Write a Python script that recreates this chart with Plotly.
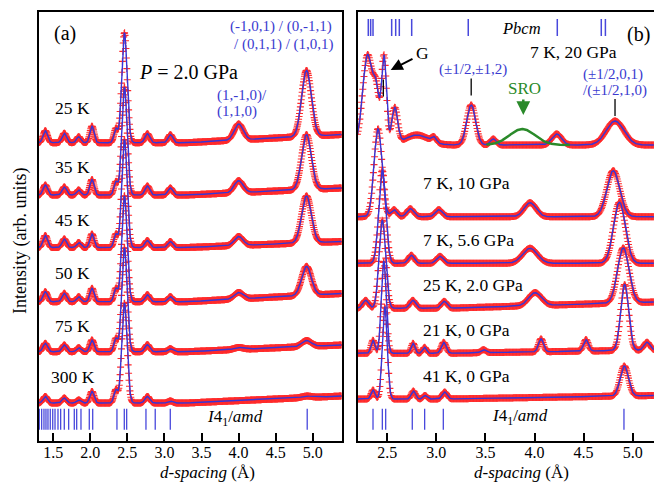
import numpy as np
import plotly.graph_objects as go

W, H = 654, 483

# ---------------- Panel (a): P = 2.0 GPa, temperature series ----------------
a_labels = ["25 K", "35 K", "45 K", "50 K", "75 K", "300 K"]
a_peak_d = [1.394, 1.650, 1.844, 2.023, 2.345, 2.461, 2.770, 3.080, 4.000, 4.915]
a_peak_sigma = [0.030, 0.030, 0.028, 0.028, 0.026, 0.036, 0.032, 0.032, 0.060, 0.065]
a_amp_25K = [12, 9.5, 6, 16.5, 14, 110, 9, 8, 16, 66]
a_amp_35K = [10, 8, 5, 15.5, 13, 108, 9, 7, 12, 55]
a_amp_45K = [12, 8.5, 5, 13.5, 13, 108, 7, 6, 9, 47]
a_amp_50K = [10, 8.4, 5, 13.4, 13, 106, 7, 5, 6.5, 29]
a_amp_75K = [8.4, 6.7, 4, 11.7, 13, 104, 7, 3, 2, 6]
a_amp_300K = [6.6, 5, 3, 11.6, 13, 100, 6.5, 2, 0, 1.5]
a_bg_left = [297.8, 245.5, 193.0, 138.8, 88.8, 37.5]
a_bg_right = [306.0, 252.5, 199.0, 147.0, 95.5, 44.5]
a_refl_I41amd = [1.313, 1.345, 1.376, 1.403, 1.430, 1.461, 1.494, 1.525, 1.565, 1.601,
                 1.650, 1.709, 1.785, 1.817, 1.875, 1.987, 2.033, 2.360, 2.459, 2.491,
                 2.751, 2.876, 3.079, 4.925]

# ---------------- Panel (b): pressure series ----------------
b_labels = ["7 K, 20 GPa", "7 K, 10 GPa", "7 K, 5.6 GPa", "25 K, 2.0 GPa", "21 K, 0 GPa", "41 K, 0 GPa"]
b_d_20GPa = [2.300, 2.390, 2.467, 2.576, 2.800, 2.976, 3.355, 3.580, 4.226, 4.820]
b_amp_20GPa = [90, 45, 88, 36, 10, 5, 40, 6, 11, 24]
b_sig_20GPa = [0.050, 0.030, 0.025, 0.030, 0.120, 0.025, 0.045, 0.030, 0.050, 0.090]
b_d_10GPa = [2.406, 2.570, 2.735, 3.025, 3.954, 4.802]
b_amp_10GPa = [88, 7, 8, 7, 14, 46]
b_sig_10GPa = [0.040, 0.030, 0.035, 0.035, 0.060, 0.065]
b_d_5GPa = [2.449, 2.745, 3.037, 3.954, 4.865]
b_amp_5GPa = [93, 8, 7, 15, 61]
b_sig_5GPa = [0.035, 0.030, 0.035, 0.075, 0.060]
b_d_2GPa = [2.280, 2.450, 2.760, 3.080, 4.005, 4.904]
b_amp_2GPa = [8, 88, 8, 7, 13, 55]
b_sig_2GPa = [0.030, 0.033, 0.030, 0.030, 0.065, 0.058]
b_d_21K = [2.355, 2.465, 2.763, 2.880, 3.075, 3.480, 4.066, 4.524, 4.918, 5.145]
b_amp_21K = [13, 92, 10, 6, 11, 3, 13, 11.5, 66, 8]
b_sig_21K = [0.020, 0.025, 0.020, 0.020, 0.025, 0.025, 0.025, 0.025, 0.040, 0.030]
b_d_41K = [2.355, 2.475, 2.766, 2.884, 3.085, 4.914]
b_amp_41K = [9, 92, 8, 3.5, 7, 30]
b_sig_41K = [0.020, 0.025, 0.022, 0.020, 0.025, 0.042]
b_bg_left = [295.5, 223.8, 177.2, 132.2, 87.2, 41.5]
b_bg_right = [295.5, 223.8, 177.2, 138.5, 90.5, 45.0]
b_refl_Pbcm = [2.307, 2.331, 2.355, 2.545, 2.586, 2.623, 2.749, 3.325, 4.232, 4.680, 4.722]
b_refl_I41amd = [2.355, 2.450, 2.484, 2.755, 2.881, 3.071, 4.911]
b_peak_marks_d = [2.460, 3.355, 4.820]
b_peak_marks_y = [352.5, 353.5, 333.0]
sro_center, sro_amp, sro_sigma, sro_lo, sro_hi = 3.875, 16, 0.13, 3.51, 4.36

# ---------------- helpers ----------------
A_RANGE = [1.305, 5.39]
B_RANGE = [2.197, 5.217]
Y_RANGE = [0, 428.2]
BLUE = "#3535d8"
RED = "#ff2a2a"
TXT_BLUE = "#3a3ad0"
FONT = "Liberation Serif, Times New Roman, serif"


def profile(d, centers, amps, sigmas, bg_l, bg_r, knee, d_end):
    y = bg_l + (bg_r - bg_l) * np.clip((d - knee) / (d_end - knee), 0, 1)
    for c, a, s in zip(centers, amps, sigmas):
        y = y + a * np.exp(-0.5 * ((d - np.asarray(c)) / s) ** 2)
    return y


def px(x):
    return x / W


def py(y):
    return 1 - y / H


fig = go.Figure()

a_amps = [a_amp_25K, a_amp_35K, a_amp_45K, a_amp_50K, a_amp_75K, a_amp_300K]
b_sets = [(b_d_20GPa, b_amp_20GPa, b_sig_20GPa), (b_d_10GPa, b_amp_10GPa, b_sig_10GPa),
          (b_d_5GPa, b_amp_5GPa, b_sig_5GPa), (b_d_2GPa, b_amp_2GPa, b_sig_2GPa),
          (b_d_21K, b_amp_21K, b_sig_21K), (b_d_41K, b_amp_41K, b_sig_41K)]

da_line = np.arange(A_RANGE[0], A_RANGE[1], 0.003)
da_obs = np.arange(A_RANGE[0], A_RANGE[1], 0.006)
db_line = np.arange(B_RANGE[0], B_RANGE[1], 0.003)
db_obs = np.arange(B_RANGE[0], B_RANGE[1], 0.006)

a_curves = []
for amps, bl, br in zip(a_amps, a_bg_left, a_bg_right):
    a_curves.append((profile(da_obs, a_peak_d, amps, a_peak_sigma, bl, br, 3.3, 5.39),
                     profile(da_line, a_peak_d, amps, a_peak_sigma, bl, br, 3.3, 5.39)))
b_curves = []
for (dd, aa, ss), bl, br in zip(b_sets, b_bg_left, b_bg_right):
    b_curves.append((profile(db_obs, dd, aa, ss, bl, br, 3.1, 5.22),
                     profile(db_line, dd, aa, ss, bl, br, 3.1, 5.22)))

obs_marker = dict(symbol="cross-thin", size=5, line=dict(width=1.1, color=RED))
for yo, _ in a_curves:
    fig.add_trace(go.Scatter(x=da_obs, y=yo, mode="markers", marker=obs_marker,
                             xaxis="x", yaxis="y", showlegend=False))
for yo, _ in b_curves:
    fig.add_trace(go.Scatter(x=db_obs, y=yo, mode="markers", marker=obs_marker,
                             xaxis="x2", yaxis="y2", showlegend=False))
for _, yl in a_curves:
    fig.add_trace(go.Scatter(x=da_line, y=yl, mode="lines", line=dict(color=BLUE, width=1.4),
                             xaxis="x", yaxis="y", showlegend=False))
for _, yl in b_curves:
    fig.add_trace(go.Scatter(x=db_line, y=yl, mode="lines", line=dict(color=BLUE, width=1.4),
                             xaxis="x2", yaxis="y2", showlegend=False))

# SRO component (green)
d_sro = np.arange(sro_lo, sro_hi, 0.005)
y_sro = profile(d_sro, [sro_center], [sro_amp], [sro_sigma], b_bg_left[0], b_bg_left[0], 3.1, 5.22)
fig.add_trace(go.Scatter(x=d_sro, y=y_sro, mode="lines", line=dict(color="#2a8a2a", width=2.5),
                         xaxis="x2", yaxis="y2", showlegend=False))

# reflection tick marks
tick_mk = dict(symbol="line-ns", size=15, line=dict(width=1.3, color="#4848dc"))
fig.add_trace(go.Scatter(x=a_refl_I41amd, y=[21.3] * len(a_refl_I41amd), mode="markers",
                         marker=tick_mk, xaxis="x", yaxis="y", showlegend=False))
fig.add_trace(go.Scatter(x=b_refl_I41amd, y=[21.3] * len(b_refl_I41amd), mode="markers",
                         marker=tick_mk, xaxis="x2", yaxis="y2", showlegend=False))
fig.add_trace(go.Scatter(x=b_refl_Pbcm, y=[413] * len(b_refl_Pbcm), mode="markers",
                         marker=dict(symbol="line-ns", size=12, line=dict(width=1.5, color="#4848dc")),
                         xaxis="x2", yaxis="y2", showlegend=False))
fig.add_trace(go.Scatter(x=b_peak_marks_d, y=b_peak_marks_y, mode="markers",
                         marker=dict(symbol="line-ns", size=12, line=dict(width=1.3, color="black")),
                         xaxis="x2", yaxis="y2", showlegend=False))

ax_common = dict(showline=True, linecolor="black", linewidth=1.8, mirror=True,
                 ticks="inside", ticklen=8, tickwidth=1.5, tickcolor="black",
                 showgrid=False, zeroline=False, ticklabelstandoff=-4,
                 tickfont=dict(family=FONT, size=16, color="black"))
fig.update_layout(
    width=W, height=H, margin=dict(l=0, r=0, t=0, b=0),
    paper_bgcolor="white", plot_bgcolor="white", showlegend=False,
    font=dict(family=FONT),
    xaxis=dict(domain=[px(38.7), px(341.7)], range=A_RANGE, anchor="y",
               tickvals=[1.5, 2.0, 2.5, 3.0, 3.5, 4.0, 4.5, 5.0],
               ticktext=["1.5", "2.0", "2.5", "3.0", "3.5", "4.0", "4.5", "5.0"], **ax_common),
    yaxis=dict(domain=[py(440.5), py(12.3)], range=Y_RANGE, anchor="x",
               showline=True, linecolor="black", linewidth=1.8, mirror=True,
               showticklabels=False, ticks="", showgrid=False, zeroline=False),
    xaxis2=dict(domain=[px(357.5), 1.0], range=B_RANGE, anchor="y2",
                tickvals=[2.5, 3.0, 3.5, 4.0, 4.5, 5.0],
                ticktext=["2.5", "3.0", "3.5", "4.0", "4.5", "5.0"], **ax_common),
    yaxis2=dict(domain=[py(440.5), py(12.3)], range=Y_RANGE, anchor="x2",
                showline=True, linecolor="black", linewidth=1.8, mirror=False,
                showticklabels=False, ticks="", showgrid=False, zeroline=False),
)


def label(text, x, y, size=17.5, color="black", xanchor="center", angle=0):
    fig.add_annotation(text=text, x=px(x), y=py(y), xref="paper", yref="paper",
                       xanchor=xanchor, yanchor="middle", showarrow=False, textangle=angle,
                       font=dict(family=FONT, size=size, color=color))


# axis titles
label("Intensity (arb. units)", 20, 241, size=18, angle=-90)
label("<i>d-spacing</i> (Å)", 207, 472, size=17)
label("<i>d-spacing</i> (Å)", 521, 472, size=17)

# panel (a) texts
label("(a)", 65, 33, size=20)
label("<i>P</i> = 2.0 GPa", 188, 71.5, size=20)
for t, yy in zip(a_labels, [108.3, 166.7, 220, 273.3, 326, 376.7]):
    label(t, 72.5, yy, size=17.5)
label("(-1,0,1) / (0,-1,1)", 334, 26.7, size=15, color=TXT_BLUE, xanchor="right")
label("/ (0,1,1) / (1,0,1)", 336, 45, size=15, color=TXT_BLUE, xanchor="right")
label("(1,-1,0)/", 215, 95, size=15, color=TXT_BLUE, xanchor="left")
label("(1,1,0)", 215, 111.7, size=15, color=TXT_BLUE, xanchor="left")
label("<i>I</i>4<sub>1</sub>/<i>amd</i>", 235, 418, size=17)

# panel (b) texts
label("(b)", 638, 35, size=20)
label("<i>Pbcm</i>", 521.7, 28.3, size=16.5)
label(b_labels[0], 573.5, 51.7)
for t, yy in zip(b_labels[1:], [183.3, 240, 285, 330, 376]):
    label(t, 421, yy, xanchor="left")
label("(±1/2,±1,2)", 472.5, 70, size=15, color=TXT_BLUE)
label("SRO", 524, 88.3, size=17, color="#2a8a2a")
label("(±1/2,0,1)", 613, 74, size=15, color=TXT_BLUE)
label("/(±1/2,1,0)", 614.5, 90.7, size=15, color=TXT_BLUE)
label("G", 422, 53.3, size=17.5)
label("<i>I</i>4<sub>1</sub>/<i>amd</i>", 520, 417, size=17)

# arrows
fig.add_annotation(x=px(390.7), y=py(70), xref="paper", yref="paper", text="", showarrow=True,
                   ax=23.3, ay=-12, arrowhead=2, arrowsize=1.2, arrowwidth=2, arrowcolor="black")
fig.add_annotation(x=px(523.3), y=py(115), xref="paper", yref="paper", text="", showarrow=True,
                   ax=0, ay=-17, arrowhead=2, arrowsize=1.1, arrowwidth=2.5, arrowcolor="#2a8a2a")

fig.write_html("out.html", config={"displayModeBar": False},
               post_script="document.body.style.margin='0px';")
